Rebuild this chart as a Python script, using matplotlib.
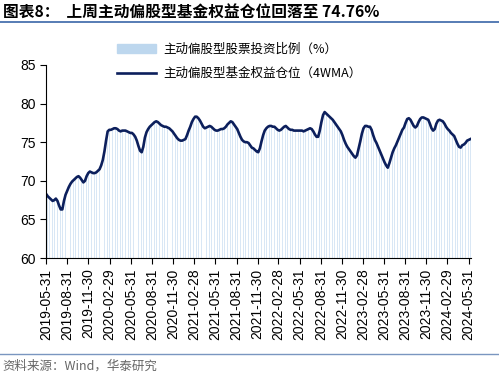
import numpy as np
import pandas as pd
import matplotlib
matplotlib.use('Agg')
import matplotlib.pyplot as plt
import matplotlib.dates as mdates
from matplotlib.lines import Line2D

plt.rcParams['font.family'] = ['Liberation Sans', 'Noto Sans CJK SC', 'DejaVu Sans']

# weekly equity position of active equity funds (%), 4WMA, from 2019-05-31
position_4wma = [
    68.3, 68.0, 67.8, 67.6, 67.4, 67.5, 67.7, 67.4, 66.8, 66.3,
    66.3, 67.4, 68.2, 68.7, 69.2, 69.6, 69.9, 70.1, 70.3, 70.5,
    70.6, 70.4, 70.1, 69.8, 70.0, 70.6, 71.0, 71.2, 71.1, 71.0,
    71.0, 71.1, 71.3, 71.5, 72.0, 72.7, 73.8, 75.2, 76.4, 76.6,
    76.6, 76.7, 76.8, 76.8, 76.7, 76.5, 76.4, 76.5, 76.5, 76.5,
    76.4, 76.3, 76.2, 76.2, 76.0, 75.7, 75.2, 74.5, 73.9, 73.7,
    74.4, 75.6, 76.3, 76.7, 77.0, 77.2, 77.4, 77.6, 77.7, 77.6,
    77.4, 77.2, 77.1, 77.0, 77.0, 76.9, 76.8, 76.6, 76.4, 76.1,
    75.8, 75.5, 75.3, 75.2, 75.2, 75.3, 75.4, 75.9, 76.5, 77.0,
    77.6, 78.0, 78.3, 78.3, 78.1, 77.8, 77.4, 77.0, 76.8, 76.9,
    77.0, 77.1, 77.0, 76.8, 76.6, 76.5, 76.5, 76.6, 76.7, 76.7,
    76.8, 77.0, 77.3, 77.5, 77.7, 77.6, 77.3, 77.0, 76.7, 76.2,
    75.7, 75.3, 75.1, 75.0, 75.0, 74.9, 74.6, 74.3, 74.2, 74.0,
    73.8, 73.7, 74.2, 75.1, 75.9, 76.5, 76.8, 77.0, 77.1, 77.1,
    77.0, 77.0, 76.8, 76.6, 76.5, 76.6, 76.8, 77.0, 77.1, 76.9,
    76.7, 76.6, 76.6, 76.5, 76.5, 76.5, 76.5, 76.5, 76.5, 76.4,
    76.5, 76.6, 76.7, 76.8, 76.7, 76.4, 76.0, 75.7, 75.7, 76.5,
    77.6, 78.5, 78.9, 78.7, 78.5, 78.3, 78.1, 77.9, 77.6, 77.3,
    77.0, 76.7, 76.4, 75.9, 75.3, 74.8, 74.4, 74.1, 73.8, 73.5,
    73.2, 73.0, 73.3, 74.2, 75.1, 76.1, 76.8, 77.1, 77.1, 77.0,
    77.0, 76.6, 75.9, 75.3, 74.9, 74.4, 73.9, 73.4, 72.9, 72.4,
    72.0, 71.7, 72.3, 73.0, 73.7, 74.2, 74.6, 75.1, 75.6, 76.1,
    76.6, 76.9, 77.5, 78.0, 78.1, 77.9, 77.5, 77.1, 76.9, 77.1,
    77.6, 78.0, 78.2, 78.2, 78.1, 78.0, 77.9, 77.4, 76.8, 76.5,
    76.7, 77.4, 77.8, 77.9, 77.8, 77.7, 77.4, 77.0, 76.7, 76.5,
    76.2, 76.0, 75.8, 75.3, 74.8, 74.4, 74.3, 74.6, 74.7, 74.9,
    75.2, 75.3, 75.4,
]

tick_dates = [
    "2019-05-31", "2019-08-31", "2019-11-30", "2020-02-29", "2020-05-31",
    "2020-08-31", "2020-11-30", "2021-02-28", "2021-05-31", "2021-08-31",
    "2021-11-30", "2022-02-28", "2022-05-31", "2022-08-31", "2022-11-30",
    "2023-02-28", "2023-05-31", "2023-08-31", "2023-11-30", "2024-02-29",
    "2024-05-31",
]

dates = pd.date_range("2019-05-31", periods=len(position_4wma), freq="7D")
ticks = pd.to_datetime(tick_dates)

fig = plt.figure(figsize=(4.99, 3.73), dpi=100)
ax = fig.add_axes([0.092, 0.308, 0.852, 0.518])

bars = ax.bar(dates, position_4wma, width=2.6, color="#d9e7f5", linewidth=0,
              label="主动偏股型股票投资比例（%）")
line, = ax.plot(dates, position_4wma, color="#0c1f5c", linewidth=1.9,
                label="主动偏股型基金权益仓位（4WMA）")

ax.set_ylim(60, 85)
ax.set_yticks([60, 65, 70, 75, 80, 85])
ax.set_xlim(ticks[0] - pd.Timedelta(days=1), dates[-1] + pd.Timedelta(days=3))
ax.set_xticks(ticks)
ax.set_xticklabels(tick_dates, rotation=90, fontsize=10)
ax.tick_params(axis="y", labelsize=10, direction="out", length=4)
ax.tick_params(axis="x", direction="out", length=4)
for s in ["top", "right"]:
    ax.spines[s].set_visible(False)
ax.spines["left"].set_color("black")
ax.spines["bottom"].set_color("black")

# legend patch drawn in the legend colour of the source chart
leg_patch = matplotlib.patches.Patch(color="#bdd7ee", label=bars.get_label())
leg = fig.legend(handles=[leg_patch, line], loc="upper left",
                 bbox_to_anchor=(0.212, 0.915), frameon=False,
                 prop={"family": ["Noto Sans CJK SC", "Liberation Sans"], "size": 9},
                 handlelength=3.1, handletextpad=0.6, labelspacing=0.9)

fig.text(0.006, 0.967, "图表8：  上周主动偏股型基金权益仓位回落至 74.76%",
         fontsize=11.3, fontweight="bold", va="center", ha="left",
         family=["Noto Sans CJK SC", "Liberation Sans"])
fig.add_artist(Line2D([0, 1], [0.941, 0.941], color="#3a66a8", linewidth=1.2))
fig.add_artist(Line2D([0, 1], [0.051, 0.051], color="#7a96c0", linewidth=1.0))
fig.text(0.004, 0.019, "资料来源：Wind，华泰研究", fontsize=9, color="#666666",
         va="center", ha="left", family=["Noto Sans CJK SC", "Liberation Sans"])

fig.savefig("out.png", dpi=100)
